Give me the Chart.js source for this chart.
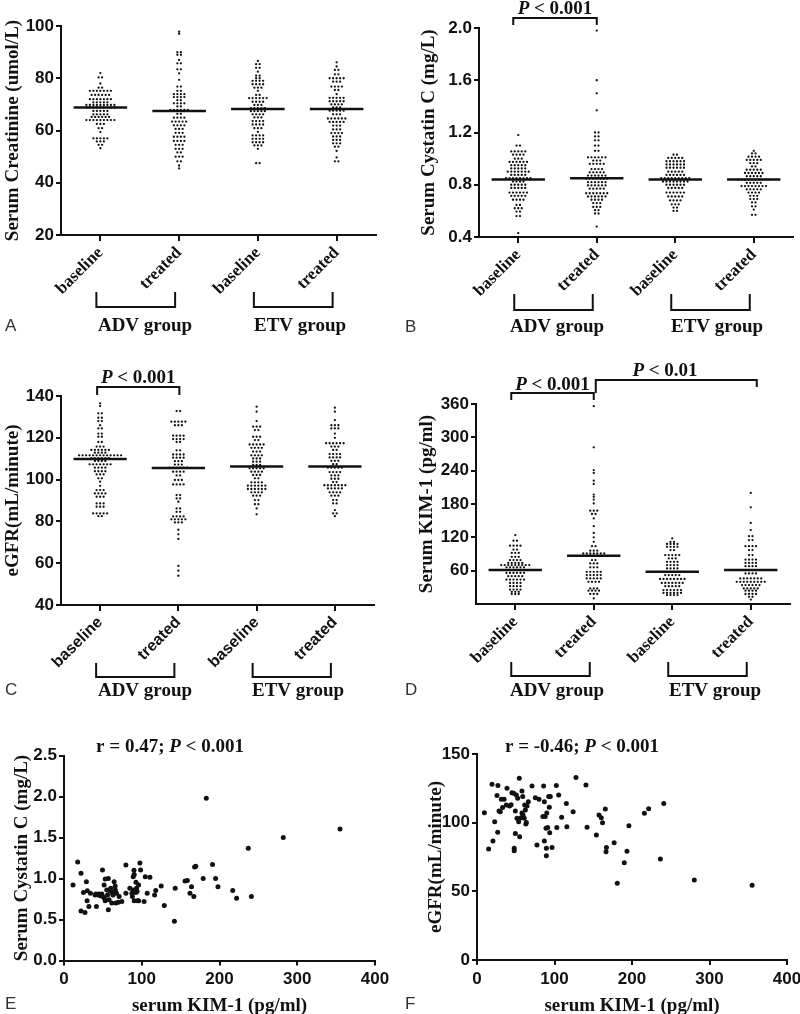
<!DOCTYPE html>
<html>
<head>
<meta charset="utf-8">
<script src="https://cdn.jsdelivr.net/npm/chart.js@4.4.1/dist/chart.umd.min.js"></script>
<style>
  html, body { margin: 0; padding: 0; background: #fff; overflow: hidden; }
  body { width: 800px; height: 1014px; position: relative; }
  canvas { position: absolute; }
</style>
</head>
<body>
<script>
// ---- data ----
const groupLabels = ['baseline', 'treated', 'baseline', 'treated'];
const groupNames = ['ADV group', 'ETV group'];

// dot plots: each row is [value, number of dots drawn in that row]
const creatAdvBase = [[82,1],[80.3,2],[78,1],[76.4,2],[75.2,7],[73.6,6],[72,7],[70.8,5],[69.8,9],[68.8,9],[67.5,5],[66.2,5],[65.2,6],[64,9],[62.5,3],[60.9,2],[59.4,1],[57,5],[55.8,3],[54.5,2],[53.2,1]];
const creatAdvTreat = [[97.8,1],[97,1],[90,2],[89,2],[87,1],[85.7,2],[83.4,2],[81.9,1],[79.4,1],[76.8,2],[75.2,2],[73.9,4],[72.8,4],[71.6,2],[70.4,4],[69.2,2],[67.9,6],[66.4,2],[64.9,4],[63.4,5],[62,4],[60.6,3],[59.1,3],[57.6,4],[56,4],[54.5,3],[53,3],[51.6,2],[50,3],[48.2,2],[46.6,1],[45.5,1]];
const creatEtvBase = [[86.6,1],[85.4,2],[84,2],[82.5,1],[81,2],[80,2],[79,4],[77.7,4],[76.4,3],[75.2,1],[73.6,2],[72.4,6],[71,4],[69.8,3],[68.6,5],[67.4,5],[66.2,4],[65,3],[63.6,4],[62.3,4],[60.9,3],[59.5,1],[58.1,4],[56.8,4],[55.5,4],[54.3,3],[53,1],[47.5,2]];
const creatEtvTreat = [[86.1,1],[84.5,1],[83.2,2],[81.5,2],[80,5],[78.7,3],[76.8,4],[75.5,2],[73.9,1],[72.5,5],[71.2,5],[70,4],[68.8,3],[67.6,5],[66.2,3],[64.6,6],[63.3,5],[61.9,3],[60.4,3],[59,4],[57.7,3],[56.4,3],[55.1,3],[53.8,2],[52.2,1],[49.7,1],[48.2,2]];
const creatMeans = [68.8, 67.5, 68.2, 68.2];

const cysAdvBase = [[1.18,1],[1.10,2],[1.055,5],[1.03,4],[1.0,3],[0.975,6],[0.95,5],[0.925,5],[0.90,7],[0.875,5],[0.85,8],[0.825,4],[0.80,5],[0.775,5],[0.74,6],[0.715,5],[0.685,4],[0.645,2],[0.62,3],[0.595,2],[0.56,2],[0.43,1]];
const cysAdvTreat = [[1.98,1],[1.60,1],[1.50,1],[1.37,1],[1.20,2],[1.17,2],[1.14,2],[1.10,2],[1.06,2],[1.01,6],[0.985,3],[0.96,5],[0.92,4],[0.895,5],[0.87,6],[0.845,7],[0.82,6],[0.795,6],[0.77,5],[0.735,7],[0.71,6],[0.685,4],[0.66,3],[0.63,3],[0.605,2],[0.58,2],[0.48,1]];
const cysEtvBase = [[1.03,2],[1.005,5],[0.98,6],[0.955,6],[0.93,6],[0.90,5],[0.875,6],[0.85,9],[0.825,8],[0.80,6],[0.775,5],[0.74,6],[0.71,5],[0.68,4],[0.65,3],[0.625,2],[0.60,2]];
const cysEtvTreat = [[1.06,1],[1.04,2],[1.015,4],[0.99,5],[0.965,3],[0.94,2],[0.915,5],[0.89,6],[0.865,5],[0.84,10],[0.815,5],[0.79,8],[0.765,5],[0.74,4],[0.715,3],[0.69,3],[0.665,2],[0.635,2],[0.61,1],[0.57,2]];
const cysMeans = [0.84, 0.85, 0.84, 0.84];

const egfrAdvBase = [[136.5,1],[135.2,1],[131.7,2],[129.6,2],[128,2],[126,1],[124.5,2],[122,2],[120.5,2],[118,2],[115.8,3],[114.2,6],[112.9,4],[111.6,13],[110.3,6],[108.9,4],[107.3,7],[105.7,4],[104,4],[102.5,3],[100.6,2],[99,1],[97,1],[95,3],[93.4,4],[91.8,3],[88.6,3],[87,3],[83.8,5],[82.5,2]];
const egfrAdvTreat = [[132.8,2],[127.7,5],[126,3],[121,4],[119.4,4],[118,2],[114,2],[112,4],[110.5,4],[108.8,3],[107.2,3],[105.7,6],[103.8,4],[102,2],[99.8,3],[97.7,4],[92.6,2],[91,2],[89.4,1],[86.2,2],[84.6,2],[82.4,4],[81,5],[79.5,3],[76,1],[73.8,1],[71.6,1],[58.7,1],[56.4,1],[54,1]];
const egfrEtvBase = [[134.9,1],[132.5,1],[128,1],[125.3,3],[123.7,2],[120.5,3],[118.9,2],[116.8,5],[115.2,4],[113.4,3],[111.6,4],[110.1,3],[108.6,3],[107,3],[105.4,5],[103.8,4],[102.2,3],[100.6,2],[98.7,4],[97.1,6],[95.5,6],[93.9,4],[92.3,3],[90.2,2],[88.2,2],[86.2,1],[83.4,1]];
const egfrEtvTreat = [[134.4,1],[132.5,1],[128.5,1],[126,3],[124.5,3],[122,1],[120,1],[117.4,6],[115.8,3],[114.2,2],[112.2,4],[110.6,4],[109,3],[107.4,2],[105.7,5],[103.6,4],[102,3],[100.4,3],[98.8,2],[97.3,7],[95.8,5],[93.9,4],[92.3,3],[90.2,2],[88.6,2],[85.4,1],[83.8,2],[82.5,1]];
const egfrMeans = [109.8, 105.5, 106.3, 106.3];

const kimAdvBase = [[124,1],[114,2],[105,4],[98,2],[92,3],[85,3],[79,4],[74,5],[70,9],[66,6],[61,8],[56,6],[50,5],[44,6],[38,4],[32,4],[26,4],[22,3],[18,3]];
const kimAdvTreat = [[356,1],[282,1],[241,1],[236,1],[222,1],[216,1],[197,1],[193,1],[188,1],[181,1],[168,3],[162,2],[154,1],[140,1],[128,1],[120,1],[112,1],[104,2],[96,3],[91,7],[87,7],[79,2],[73,3],[66,3],[58,5],[52,5],[46,5],[40,4],[28,3],[24,4],[18,3],[10,1]];
const kimEtvBase = [[118,1],[112,2],[108,4],[103,4],[97,2],[88,5],[82,3],[76,4],[70,4],[64,4],[58,8],[52,5],[45,8],[38,7],[32,5],[25,6],[20,6],[16,4]];
const kimEtvTreat = [[200,1],[174,1],[146,1],[133,1],[122,2],[115,2],[104,4],[97,2],[88,2],[80,4],[74,4],[68,4],[61,6],[55,4],[46,7],[40,9],[34,6],[28,5],[24,4],[18,4],[13,2],[8,1]];
const kimMeans = [61, 87, 58, 61];

// correlation scatters
const kimE = [11.6,17.6,21.9,21.9,27,28.8,25,30,29.7,32,
  34,41,41.7,45,49.5,48.6,50,51.6,53,53,
  55,57,57,58,61.5,62.4,64.5,65.8,65,67.5,
  66.7,71,74.4,79.6,79.6,84.7,87.3,89,90,90.3,
  90.3,92.5,92.5,93.3,94.6,96,97.6,98.5,103,104.5,
  107,110.5,116.5,118,125,129,142,143,155.7,158.7,
  162,164,167,168,169.5,179,183,191,195,198,
  217,222,237,241,282,355,
  40,44,47,52,56,59,60,63,66,88,89,94,96,70,92];
const cysE = [0.92,1.20,1.065,0.605,0.585,0.96,0.83,0.85,0.73,0.66,
  0.82,0.81,0.66,0.81,1.105,0.81,0.78,0.92,0.995,0.73,
  0.86,1.0,0.62,0.74,0.70,0.82,0.96,0.91,0.84,0.82,
  0.70,0.78,0.72,1.165,0.82,0.88,0.82,1.02,1.10,1.05,
  0.73,0.955,0.83,0.88,0.73,0.92,1.19,1.105,0.72,1.02,
  0.82,1.015,0.80,0.855,0.91,0.67,0.48,0.88,0.97,0.975,
  0.82,0.90,0.78,1.14,1.15,1.0,1.98,1.17,1.0,0.90,
  0.855,0.76,1.37,0.78,1.50,1.605,
  0.80,0.80,0.79,0.76,0.80,0.85,0.88,0.80,0.86,0.78,0.86,0.84,0.73,0.71,0.84];

const kimF = [9.5,15,19.4,20.6,22.8,25.8,27,26.7,28.4,30,
  31.4,38.7,37.8,42,45,47.3,48,48,49.5,49.5,
  50.8,51.6,52.5,53.8,54.6,55,56.8,58,59,59.4,
  61,61.5,62.4,63.7,64.5,66.2,71,75.3,77.4,86,
  85,86.9,88,86.9,89,89.5,89.5,91.2,92.5,93.3,
  93.8,94.6,96.8,102.4,103,105.4,109.2,115.3,116,124,
  127.7,140.6,142,154,157.4,160.4,162,165.6,167,166.5,
  177,181,190,193.5,196,216,221.5,236.6,241,280.4,355,
  35,44,58,63,80,90,33];
const egfrF = [107.3,80.8,128,86.7,100.7,119.7,127,93,108.5,108,
  117,125,112.9,112.1,121.8,121.4,81.3,79.6,92.2,108.5,
  120.1,103.2,117.7,100.7,132.3,89.8,103.6,123,119,105.6,
  103.2,112.9,109.2,100.2,112.1,115.3,126.7,118.2,83.7,126.7,
  104.4,115.3,104.4,86.7,95.9,81.3,76,96.4,119,111.2,
  92.7,119,82,127,96.4,120.1,103.9,114,97,108,
  132.8,127.4,96.6,91,105.6,103.6,100,110,82,78.9,
  85.4,55.8,70.9,79.1,97.8,106.8,110.2,73.5,114,58.3,54.4,
  117,113,107,99,117,107,111];

// ---- drawing ----
const SANS = '"Liberation Sans", Arial, sans-serif';
const SERIF = '"Liberation Serif", "Times New Roman", serif';
const INK = '#111';
const DOT_GAP = 3.5;

function makeCanvas(box) {
  const c = document.createElement('canvas');
  c.width = box.w; c.height = box.h;
  c.style.left = box.x + 'px'; c.style.top = box.y + 'px';
  c.style.width = box.w + 'px'; c.style.height = box.h + 'px';
  document.body.appendChild(c);
  return c;
}

function swarm(rows, cat, step) {
  const pts = [];
  rows.forEach(([v, n]) => {
    for (let k = 0; k < n; k++) pts.push({x: cat + (k - (n - 1) / 2) * step, y: v});
  });
  return pts;
}

function richText(ctx, parts, cx, cy, size) {
  const fonts = parts.map(p => (p[1] ? 'italic ' : '') + 'bold ' + size + 'px ' + SERIF);
  let total = 0;
  const widths = parts.map((p, i) => { ctx.font = fonts[i]; const w = ctx.measureText(p[0]).width; total += w; return w; });
  let x = cx - total / 2;
  ctx.textAlign = 'left'; ctx.textBaseline = 'middle';
  parts.forEach((p, i) => { ctx.font = fonts[i]; ctx.fillText(p[0], x, cy); x += widths[i]; });
}

function letter(ctx, t, x, y) {
  ctx.font = '17px ' + SANS; ctx.fillStyle = '#333';
  ctx.textAlign = 'left'; ctx.textBaseline = 'middle';
  ctx.fillText(t, x, y);
  ctx.fillStyle = INK;
}

function axisCommon(tickLen) {
  return {
    grid: {display: true, drawOnChartArea: false, drawTicks: true, tickLength: tickLen, lineWidth: 2, color: INK},
    border: {display: true, width: 2, color: INK}
  };
}

function dotPanel(cfg) {
  const box = cfg.box, a = cfg.area;
  const canvas = makeCanvas(box);
  const step = DOT_GAP / ((a.right - a.left) / 4);
  const datasets = [];
  cfg.means.forEach((m, i) => datasets.push({
    data: [{x: i - 0.34, y: m}, {x: i + 0.34, y: m}], showLine: true, fill: false,
    borderColor: INK, borderWidth: 2.5, pointRadius: 0, order: 0
  }));
  cfg.groups.forEach((rows, i) => datasets.push({
    data: swarm(rows, i, step), pointRadius: 1.15, pointBorderWidth: 0,
    pointBackgroundColor: INK, order: 1
  }));
  const annot = {
    id: 'annot',
    afterDraw(chart) {
      const ctx = chart.ctx, xs = [0, 1, 2, 3].map(i => chart.scales.x.getPixelForValue(i));
      ctx.save();
      ctx.strokeStyle = INK; ctx.fillStyle = INK; ctx.lineWidth = 2;
      const g = cfg.brackets;
      [[0, 1], [2, 3]].forEach(([i, j], k) => {
        const l = xs[i] - 4, r = xs[j] - 4;
        ctx.beginPath();
        ctx.moveTo(l, g.top - box.y); ctx.lineTo(l, g.bot - box.y);
        ctx.lineTo(r, g.bot - box.y); ctx.lineTo(r, g.top - box.y);
        ctx.stroke();
        ctx.font = 'bold 19px ' + SERIF; ctx.textAlign = 'center'; ctx.textBaseline = 'middle';
        ctx.fillText(groupNames[k], g.textX[k] - box.x, g.textY - box.y);
      });
      (cfg.pbars || []).forEach(p => {
        const l = xs[p.from] + p.dl, r = xs[p.to] + p.dr;
        ctx.beginPath();
        ctx.moveTo(l, p.endL - box.y); ctx.lineTo(l, p.top - box.y);
        ctx.lineTo(r, p.top - box.y); ctx.lineTo(r, p.endR - box.y);
        ctx.stroke();
        const cx = p.cx != null ? p.cx - box.x : (l + r) / 2;
        richText(ctx, [['P', true], [' < ' + p.text, false]], cx, p.cy - box.y, 19);
      });
      letter(ctx, cfg.letter, cfg.letterPos[0] - box.x, cfg.letterPos[1] - box.y);
      ctx.restore();
    }
  };
  new Chart(canvas, {
    type: 'scatter',
    data: {datasets},
    options: {
      responsive: false, animation: false, events: [],
      layout: {padding: {left: 0, top: a.top - box.y, right: box.x + box.w - a.right, bottom: 0}},
      plugins: {legend: {display: false}, tooltip: {enabled: false}},
      scales: {
        x: Object.assign(axisCommon(6), {
          type: 'linear', min: -0.5, max: 3.5,
          afterBuildTicks: s => { s.ticks = groupLabels.map((_, i) => ({value: i})); },
          afterFit: s => { s.height = box.y + box.h - a.bottom; s.paddingLeft = 0; s.paddingRight = 0; },
          ticks: {
            autoSkip: false, minRotation: 45, maxRotation: 45, padding: 2, color: INK,
            font: {family: cfg.catFont, weight: 'bold', size: cfg.catSize},
            callback: v => groupLabels[v]
          }
        }),
        y: Object.assign(axisCommon(5), {
          type: 'linear', min: cfg.yMin, max: cfg.yMax,
          afterBuildTicks: s => { s.ticks = cfg.yTicks.map(v => ({value: v})); },
          afterFit: s => { s.width = a.left - box.x; s.paddingTop = 0; s.paddingBottom = 0; },
          ticks: {
            padding: 2, color: INK, font: {family: SANS, weight: 'bold', size: 17},
            callback: v => cfg.yFmt ? v.toFixed(cfg.yFmt) : String(v)
          },
          title: {
            display: true, text: cfg.yTitle, color: INK,
            font: {family: SERIF, weight: 'bold', size: 19, lineHeight: 1},
            padding: {top: cfg.yTitleX - box.x - 9.5, bottom: 0}
          }
        })
      }
    },
    plugins: [annot]
  });
}

function scatterPanel(cfg) {
  const box = cfg.box, a = cfg.area;
  const canvas = makeCanvas(box);
  const pts = cfg.xs.map((x, i) => ({x, y: cfg.ys[i]}));
  const annot = {
    id: 'annot',
    afterDraw(chart) {
      const ctx = chart.ctx;
      ctx.save(); ctx.fillStyle = INK;
      richText(ctx, [[cfg.rText, false], ['P', true], [' < 0.001', false]], cfg.rPos[0] - box.x, cfg.rPos[1] - box.y, 19);
      letter(ctx, cfg.letter, cfg.letterPos[0] - box.x, cfg.letterPos[1] - box.y);
      ctx.restore();
    }
  };
  new Chart(canvas, {
    type: 'scatter',
    data: {datasets: [{data: pts, pointRadius: 2.5, pointBorderWidth: 0, pointBackgroundColor: INK}]},
    options: {
      responsive: false, animation: false, events: [],
      layout: {padding: {left: 0, top: a.top - box.y, right: box.x + box.w - a.right, bottom: 0}},
      plugins: {legend: {display: false}, tooltip: {enabled: false}},
      scales: {
        x: Object.assign(axisCommon(5), {
          type: 'linear', min: 0, max: 400,
          afterBuildTicks: s => { s.ticks = cfg.xTicks.map(v => ({value: v})); },
          afterFit: s => { s.height = box.y + box.h - a.bottom; s.paddingLeft = 0; s.paddingRight = 0; },
          ticks: {padding: 4, color: INK, font: {family: SANS, weight: 'bold', size: 17}},
          title: {
            display: true, text: 'serum KIM-1 (pg/ml)', color: INK,
            font: {family: SERIF, weight: 'bold', size: 19, lineHeight: 0.8}, padding: 0
          }
        }),
        y: Object.assign(axisCommon(5), {
          type: 'linear', min: cfg.yTicks[0], max: cfg.yTicks[cfg.yTicks.length - 1],
          afterBuildTicks: s => { s.ticks = cfg.yTicks.map(v => ({value: v})); },
          afterFit: s => { s.width = a.left - box.x; s.paddingTop = 0; s.paddingBottom = 0; },
          ticks: {
            padding: 2, color: INK, font: {family: SANS, weight: 'bold', size: 17},
            callback: v => cfg.yFmt ? v.toFixed(cfg.yFmt) : String(v)
          },
          title: {
            display: true, text: cfg.yTitle, color: INK,
            font: {family: SERIF, weight: 'bold', size: 19, lineHeight: 1},
            padding: {top: cfg.yTitleX - box.x - 9.5, bottom: 0}
          }
        })
      }
    },
    plugins: [annot]
  });
}

dotPanel({
  box: {x: 0, y: 0, w: 400, h: 340}, area: {left: 61, top: 26, right: 376, bottom: 235},
  groups: [creatAdvBase, creatAdvTreat, creatEtvBase, creatEtvTreat], means: creatMeans,
  yMin: 20, yMax: 100, yTicks: [20, 40, 60, 80, 100],
  yTitle: 'Serum Creatinine (umol/L)', yTitleX: 13, catFont: SERIF, catSize: 17,
  brackets: {top: 292, bot: 307, textY: 326, textX: [145, 300]},
  letter: 'A', letterPos: [5, 326]
});

dotPanel({
  box: {x: 400, y: 0, w: 400, h: 340}, area: {left: 479, top: 28, right: 793, bottom: 237},
  groups: [cysAdvBase, cysAdvTreat, cysEtvBase, cysEtvTreat], means: cysMeans,
  yMin: 0.4, yMax: 2.0, yTicks: [0.4, 0.8, 1.2, 1.6, 2.0], yFmt: 1,
  yTitle: 'Serum Cystatin C (mg/L)', yTitleX: 429, catFont: SERIF, catSize: 17,
  brackets: {top: 294, bot: 310, textY: 327, textX: [557, 717]},
  pbars: [{from: 0, to: 1, dl: -5, dr: 0, top: 18, endL: 25, endR: 25, cy: 9, text: '0.001'}],
  letter: 'B', letterPos: [405, 327]
});

dotPanel({
  box: {x: 0, y: 340, w: 400, h: 365}, area: {left: 61, top: 396, right: 374, bottom: 605},
  groups: [egfrAdvBase, egfrAdvTreat, egfrEtvBase, egfrEtvTreat], means: egfrMeans,
  yMin: 40, yMax: 140, yTicks: [40, 60, 80, 100, 120, 140],
  yTitle: 'eGFR(mL/minute)', yTitleX: 13, catFont: SANS, catSize: 16,
  brackets: {top: 663, bot: 677, textY: 691, textX: [145, 298]},
  pbars: [{from: 0, to: 1, dl: -3, dr: 1, top: 387, endL: 395, endR: 395, cy: 378, text: '0.001'}],
  letter: 'C', letterPos: [5, 690]
});

dotPanel({
  box: {x: 400, y: 340, w: 400, h: 365}, area: {left: 476, top: 404, right: 790, bottom: 604},
  groups: [kimAdvBase, kimAdvTreat, kimEtvBase, kimEtvTreat], means: kimMeans,
  yMin: 0, yMax: 360, yTicks: [60, 120, 180, 240, 300, 360],
  yTitle: 'Serum KIM-1 (pg/ml)', yTitleX: 427, catFont: SERIF, catSize: 17,
  brackets: {top: 662, bot: 676, textY: 691, textX: [557, 715]},
  pbars: [
    {from: 0, to: 1, dl: -4, dr: 0, top: 393, endL: 400, endR: 400, cy: 385, text: '0.001'},
    {from: 1, to: 3, dl: 2, dr: 6, top: 380, endL: 393, endR: 387, cy: 371, cx: 665, text: '0.01'}
  ],
  letter: 'D', letterPos: [405, 690]
});

scatterPanel({
  box: {x: 0, y: 705, w: 400, h: 309}, area: {left: 64, top: 755.5, right: 375, bottom: 960.5},
  xs: kimE, ys: cysE, xTicks: [0, 100, 200, 300, 400],
  yTicks: [0, 0.5, 1.0, 1.5, 2.0, 2.5], yFmt: 1,
  yTitle: 'Serum Cystatin C (mg/L)', yTitleX: 22,
  rText: 'r = 0.47; ', rPos: [170, 747],
  letter: 'E', letterPos: [5, 1004]
});

scatterPanel({
  box: {x: 400, y: 705, w: 400, h: 309}, area: {left: 477, top: 754, right: 787, bottom: 960},
  xs: kimF, ys: egfrF, xTicks: [0, 100, 200, 300, 400],
  yTicks: [0, 50, 100, 150],
  yTitle: 'eGFR(mL/minute)', yTitleX: 436,
  rText: 'r = -0.46; ', rPos: [582, 747],
  letter: 'F', letterPos: [405, 1004]
});
</script>
</body>
</html>
